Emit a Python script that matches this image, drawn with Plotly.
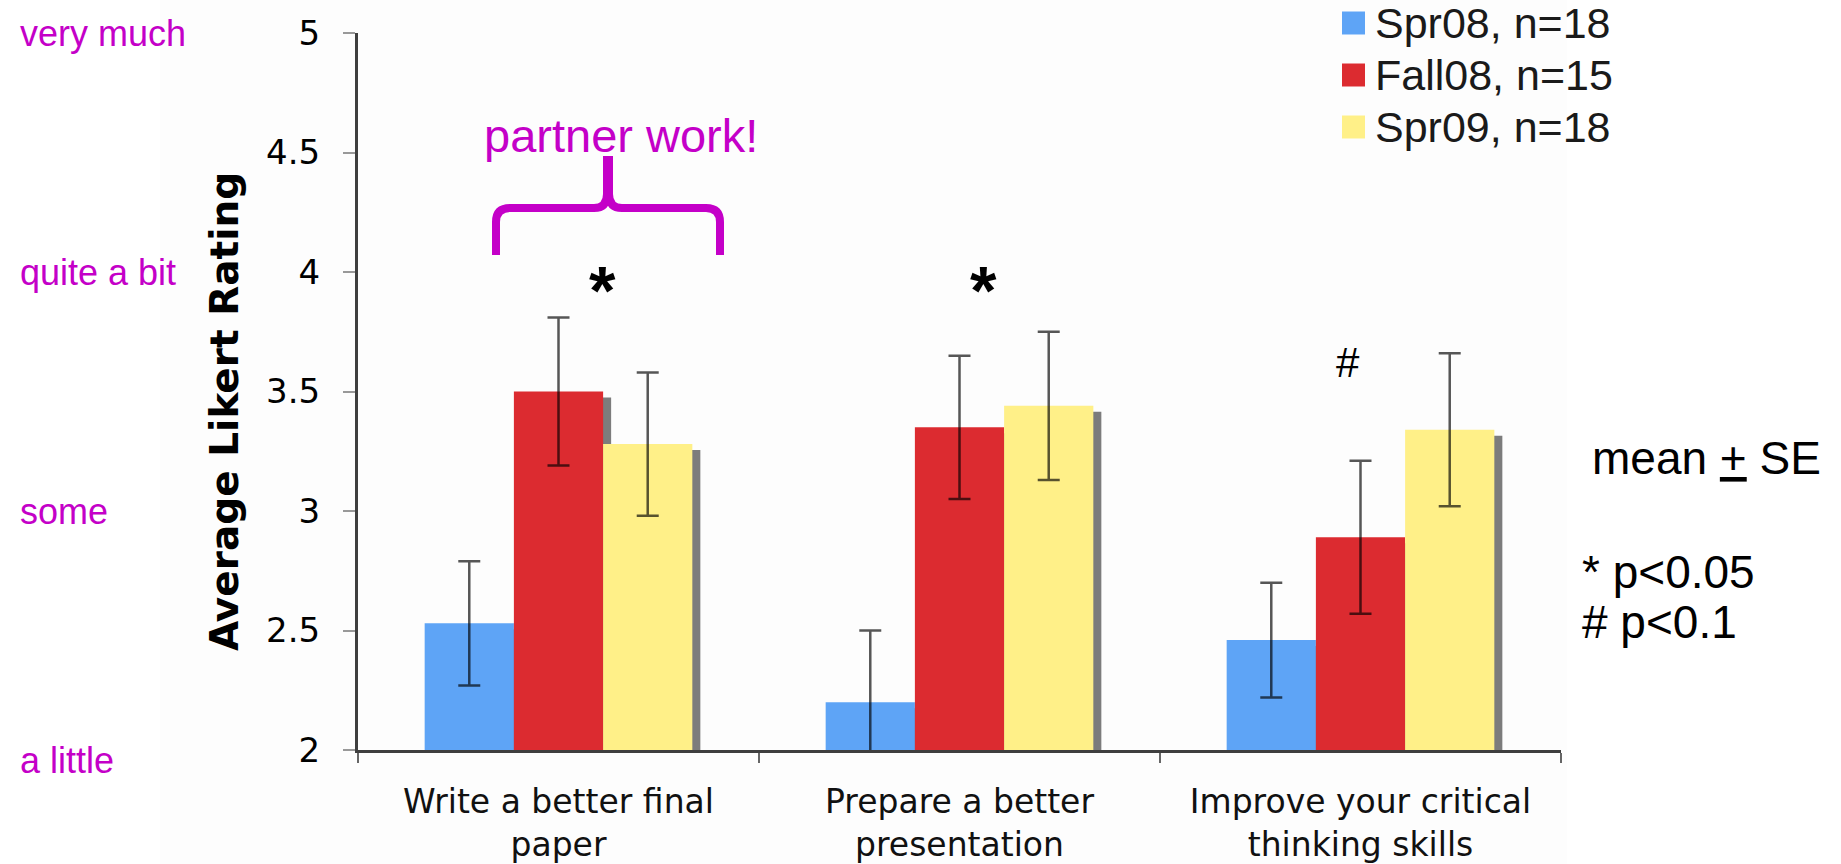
import plotly.graph_objects as go

# ---------------- data ----------------
categories = ["Write a better final<br>paper",
              "Prepare a better<br>presentation",
              "Improve your critical<br>thinking skills"]
series_names = ["Spr08, n=18", "Fall08, n=15", "Spr09, n=18"]
spr08 = [2.53, 2.20, 2.46]
spr08_se = [0.26, 0.30, 0.24]
fall08 = [3.50, 3.35, 2.89]
fall08_se = [0.31, 0.30, 0.32]
spr09 = [3.28, 3.44, 3.34]
spr09_se = [0.30, 0.31, 0.32]
y_ticks = [2, 2.5, 3, 3.5, 4, 4.5, 5]
y_tick_labels = ["2", "2.5", "3", "3.5", "4", "4.5", "5"]
scale_labels = ["very much", "quite a bit", "some", "a little"]
scale_values = [5, 4, 3, 2]
sig_marks = ["*", "*", "#"]

# ---------------- style ----------------
W, H = 1841, 864
L, R, T, B = 358, 280, 33, 114
colors = ["#5EA4F6", "#DC2B30", "#FFF088"]
shadow = "#7C7C7C"
magenta = "#C400C8"
bw = 0.2225
offsets = [-1.5 * bw, -0.5 * bw, 0.5 * bw]
pw, ph = W - L - R, H - T - B


def xp(px):
    return (px - L) / pw


def yp(py):
    return (H - B - py) / ph


fig = go.Figure()
values = [spr08, fall08, spr09]
ses = [spr08_se, fall08_se, spr09_se]

# drop shadows (drawn first, under the bars)
for i, v in enumerate(values):
    fig.add_trace(go.Bar(
        x=categories, y=[a - 0.025 for a in v], width=bw, offset=offsets[i] + 0.02,
        marker=dict(color=shadow, line=dict(width=0)), hoverinfo="skip",
        showlegend=False))

for i, (v, e) in enumerate(zip(values, ses)):
    fig.add_trace(go.Bar(
        x=categories, y=v, width=bw, offset=offsets[i], name=series_names[i],
        marker=dict(color=colors[i], line=dict(width=0)),
        error_y=dict(type="data", array=e, visible=True,
                     color="rgba(0,0,0,0.66)", thickness=2.5, width=11),
        showlegend=False))

shapes = [
    dict(type="rect", xref="paper", yref="paper", x0=xp(160), x1=xp(1567),
         y0=yp(H), y1=yp(0), fillcolor="#FDFDFD", line=dict(width=0), layer="below"),
]

# curly brace over first group
bx0, bx1, bmid = 496, 720, 608
by_bot, by_h, by_top = 255, 208, 160
r = 14
pts = (f"M {xp(bx0)} {yp(by_bot)} L {xp(bx0)} {yp(by_h + r)} "
       f"Q {xp(bx0)} {yp(by_h)} {xp(bx0 + r)} {yp(by_h)} "
       f"L {xp(bmid - 14)} {yp(by_h)} Q {xp(bmid - 1)} {yp(by_h)} {xp(bmid - 1)} {yp(by_h - 14)} "
       f"L {xp(bmid - 1)} {yp(by_top)} L {xp(bmid + 1)} {yp(by_top)} "
       f"L {xp(bmid + 1)} {yp(by_h - 14)} Q {xp(bmid + 1)} {yp(by_h)} {xp(bmid + 14)} {yp(by_h)} "
       f"L {xp(bx1 - r)} {yp(by_h)} Q {xp(bx1)} {yp(by_h)} {xp(bx1)} {yp(by_h + r)} "
       f"L {xp(bx1)} {yp(by_bot)}")
shapes.append(dict(type="path", xref="paper", yref="paper", path=pts,
                   line=dict(color=magenta, width=8)))

annotations = []
# manual legend
leg_rows = [23, 75, 127]
for i, name in enumerate(series_names):
    shapes.append(dict(type="rect", xref="paper", yref="paper",
                       x0=xp(1342), x1=xp(1365), y0=yp(leg_rows[i] + 11.5), y1=yp(leg_rows[i] - 11.5),
                       fillcolor=colors[i], line=dict(width=0)))
    annotations.append(dict(text=name, xref="paper", yref="paper", x=xp(1373), y=yp(leg_rows[i]),
                            xanchor="left", yanchor="middle", showarrow=False,
                            font=dict(family="Liberation Sans, Arial", size=43, color="#1a1a1a")))

# Likert scale labels on the far left
for lab, val in zip(scale_labels, scale_values):
    annotations.append(dict(text=lab, xref="paper", yref="y", x=xp(18), y=val,
                            yshift=-10 if val == 2 else 0,
                            xanchor="left", yanchor="middle", showarrow=False,
                            font=dict(family="Liberation Sans, Arial", size=36, color=magenta)))

# y-axis title
annotations.append(dict(text="<b>Average Likert Rating</b>", xref="paper", yref="paper",
                        x=xp(224), y=yp(412), textangle=-90, xanchor="center", yanchor="middle",
                        showarrow=False,
                        font=dict(family="DejaVu Sans", size=39, color="#000")))

annotations.append(dict(text="partner work!", xref="paper", yref="paper", x=xp(621), y=yp(135),
                        xanchor="center", yanchor="middle", showarrow=False,
                        font=dict(family="Liberation Sans, Arial", size=47, color=magenta)))

# significance marks
sig_x = [0.11, 1.06, 1.97]
sig_y = [3.96, 3.96, 3.62]
for m, sx, sy in zip(sig_marks, sig_x, sig_y):
    bold = m == "*"
    annotations.append(dict(text=f"<b>{m}</b>" if bold else m, xref="x", yref="y", x=sx, y=sy,
                            yshift=-8 if bold else 0,
                            xanchor="center", yanchor="middle", showarrow=False,
                            font=dict(family="Liberation Sans, Arial", size=68 if bold else 42,
                                      color="#000")))

# notes on the right
notes = [("mean <u>+</u> SE", 458, 1590), ("* p<0.05", 572, 1580), ("# p<0.1", 622, 1580)]
for txt, ny, nx in notes:
    annotations.append(dict(text=txt, xref="paper", yref="paper", x=xp(nx), y=yp(ny),
                            xanchor="left", yanchor="middle", showarrow=False,
                            font=dict(family="Liberation Sans, Arial", size=46, color="#000")))

fig.update_layout(
    width=W, height=H, margin=dict(l=L, r=R, t=T, b=B, pad=0, autoexpand=False),
    paper_bgcolor="white", plot_bgcolor="rgba(0,0,0,0)",
    barmode="overlay", showlegend=False,
    shapes=shapes, annotations=annotations,
    xaxis=dict(type="category", range=[-0.5, 2.5], showgrid=False, zeroline=False,
               automargin=False,
               showline=True, linecolor="#3f3f3f", linewidth=3,
               ticks="outside", tickson="boundaries", ticklen=10, tickwidth=1.5,
               tickcolor="#666", ticklabelstandoff=20,
               tickfont=dict(family="DejaVu Sans", size=33, color="#111")),
    yaxis=dict(range=[2, 5], tickvals=y_ticks, ticktext=y_tick_labels, showgrid=False,
               automargin=False,
               zeroline=False, showline=True, linecolor="#3f3f3f", linewidth=3,
               ticks="outside", ticklen=12, tickwidth=2, tickcolor="#999",
               ticklabelstandoff=16,
               tickfont=dict(family="DejaVu Sans", size=34, color="#000")),
)

fig.write_html("out.html")
